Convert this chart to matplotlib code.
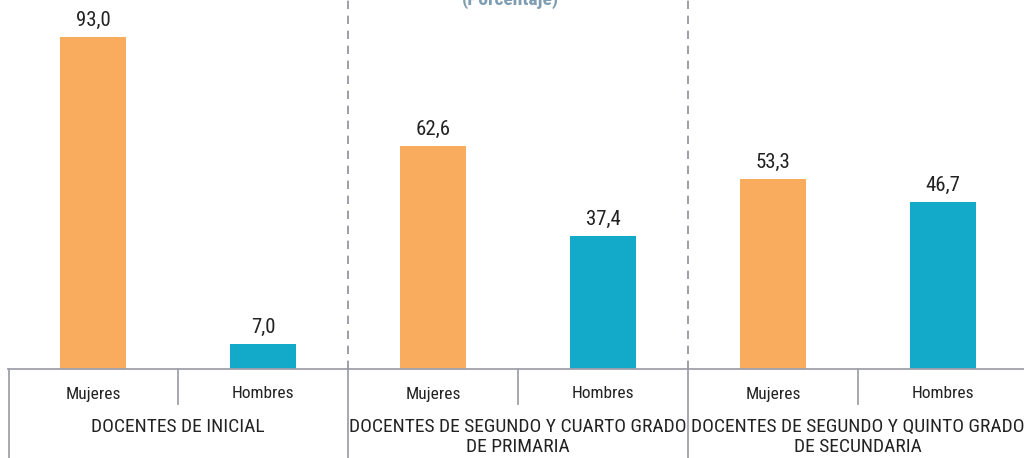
import matplotlib
matplotlib.use("Agg")
import matplotlib.pyplot as plt
from matplotlib import font_manager

groups = ["DOCENTES DE INICIAL",
          "DOCENTES DE SEGUNDO Y CUARTO GRADO\nDE PRIMARIA",
          "DOCENTES DE SEGUNDO Y QUINTO GRADO\nDE SECUNDARIA"]
sexes = ["Mujeres", "Hombres"]
mujeres = [93.0, 62.6, 53.3]
hombres = [7.0, 37.4, 46.7]
title = "(Porcentaje)"

names = {f.name for f in font_manager.fontManager.ttflist}
cands = ["Liberation Sans Narrow", "Roboto Condensed", "Open Sans Condensed",
         "Arial Narrow", "Noto Sans Condensed", "DejaVu Sans Condensed"]
narrow = next((c for c in cands if c in names), None)
if narrow:
    fam = narrow
    gsize, ssize, vsize, ls = 14, 12.5, 15, 1.15
else:
    fam = "Liberation Sans"
    gsize, ssize, vsize, ls = 11, 11.5, 13, 1.35
plt.rcParams['font.family'] = [fam, 'DejaVu Sans']

W, H = 1024, 458
fig = plt.figure(figsize=(W/100, H/100), dpi=100)
ax = fig.add_axes([8/W, 89/H, 1020/W, 369/H])
ax.set_xlim(0, 6)
ax.set_ylim(0, 103.4)
ax.axis('off')

c_m = "#F9AC5E"
c_h = "#13A9C8"
bw = 0.39
line_c = "#A0A0AC"

for i in range(3):
    xm = 2*i + 0.5
    xh = 2*i + 1.5
    ax.bar(xm, mujeres[i], width=bw, color=c_m)
    ax.bar(xh, hombres[i], width=bw, color=c_h)
    for x, v in ((xm, mujeres[i]), (xh, hombres[i])):
        ax.text(x, v + 2.0, f"{v:.1f}".replace(".", ","), ha='center', va='bottom',
                fontsize=vsize, color="#222222")

ax.plot([0, 6], [0, 0], color=line_c, lw=1.3, clip_on=False)
ppu = 369/103.4
def yd(px_below):
    return -px_below/ppu
for i in range(3):
    for j, s in enumerate(sexes):
        ax.text(2*i + j + 0.5, yd(25), s, ha='center', va='center', fontsize=ssize, color="#222222")
    ax.plot([2*i + 1, 2*i + 1], [0, yd(35)], color=line_c, lw=1.3, clip_on=False)
    ax.text(2*i + 1, yd(49), groups[i], ha='center', va='top', fontsize=gsize,
            color="#222222", linespacing=ls)
for x in [0.006, 2, 4]:
    ax.plot([x, x], [0, yd(95)], color=line_c, lw=1.3, clip_on=False)
for x in [2, 4]:
    ax.plot([x, x], [0, 103.4], color="#8E8E9C", lw=1.2, ls=(0, (5, 4)), clip_on=False)

fig.text(510/W, 1 + 0/H, title, ha='center', va='center', fontsize=14,
         color="#7F9DB0", fontweight='bold')

fig.savefig("out.png", dpi=100)
